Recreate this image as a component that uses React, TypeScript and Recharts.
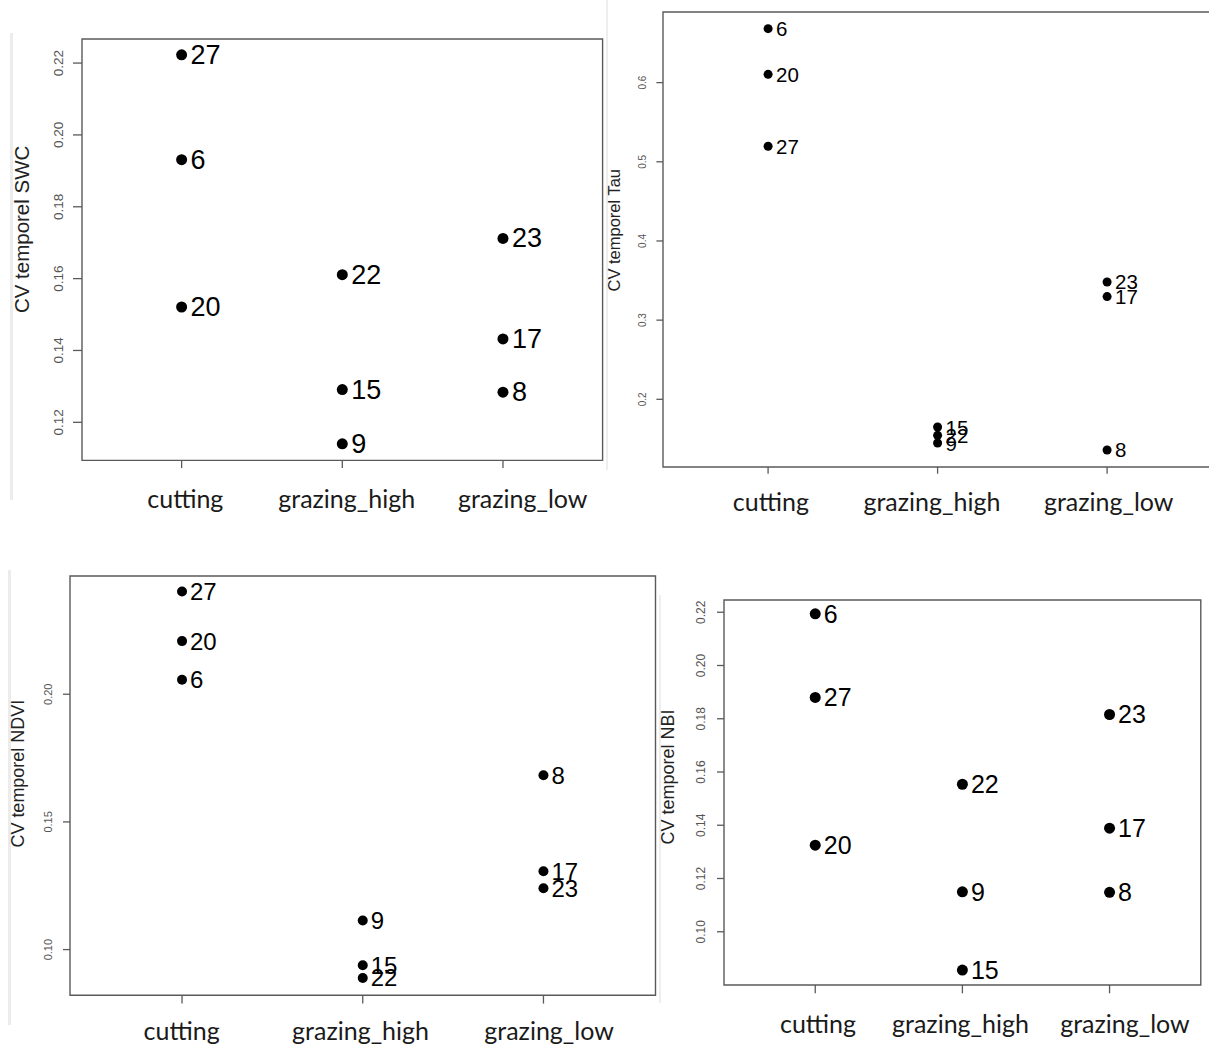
import React from "react";
import { ScatterChart, Scatter, XAxis, YAxis, ReferenceArea } from "recharts";

// treatments on the x axis, three plots per treatment in every panel
const categories = ["cutting", "grazing_high", "grazing_low"];
const pointGroups = [
  "cutting", "cutting", "cutting",
  "grazing_high", "grazing_high", "grazing_high",
  "grazing_low", "grazing_low", "grazing_low",
];

// CV temporel SWC
const swcIds = [27, 6, 20, 22, 15, 9, 23, 17, 8];
const swcValues = [0.2223, 0.1931, 0.1521, 0.1611, 0.1291, 0.114, 0.1712, 0.1432, 0.1284];
const swcTicks = [0.12, 0.14, 0.16, 0.18, 0.2, 0.22];
const swcDomain = [0.1094, 0.2267];

// CV temporel Tau
const tauIds = [6, 20, 27, 15, 22, 9, 23, 17, 8];
const tauValues = [0.6682, 0.6105, 0.5196, 0.165, 0.1545, 0.1448, 0.3482, 0.3297, 0.136];
const tauTicks = [0.2, 0.3, 0.4, 0.5, 0.6];
const tauDomain = [0.1145, 0.6892];

// CV temporel NDVI
const ndviIds = [27, 20, 6, 9, 15, 22, 8, 17, 23];
const ndviValues = [0.2402, 0.2208, 0.2057, 0.1114, 0.0939, 0.0889, 0.1683, 0.1307, 0.124];
const ndviTicks = [0.1, 0.15, 0.2];
const ndviDomain = [0.0821, 0.2463];

// CV temporel NBI
const nbiIds = [6, 27, 20, 22, 9, 15, 23, 17, 8];
const nbiValues = [0.2194, 0.188, 0.1325, 0.1554, 0.115, 0.0856, 0.1816, 0.1389, 0.1148];
const nbiTicks = [0.1, 0.12, 0.14, 0.16, 0.18, 0.2, 0.22];
const nbiDomain = [0.08, 0.2246];

const X_DOMAIN = [0.38, 3.62];
const SANS = "'Liberation Sans', Arial, sans-serif";
const LABEL_FONT = "Lato, 'Open Sans', sans-serif";
const BOX = "#5a5a5a";

// space around the plot box inside each svg
const PAD_LEFT = 80;
const PAD_TOP = 6;
const PAD_RIGHT = 6;
const PAD_BOTTOM = 70;

type Layout = {
  boxLeft: number;
  boxTop: number;
  boxRight: number;
  boxBottom: number;
  yTickSize: number;
  yTickFont: number;
  yTickDist: number;
  titleFont: number;
  titleDist: number;
  xTickSize: number;
  catBaseline: number;
  catShift: number[];
  dotR: number;
  labelFont: number;
  labelGap: number;
};

const swcLayout: Layout = {
  boxLeft: 81.7, boxTop: 39.3, boxRight: 602.3, boxBottom: 460.7,
  yTickSize: 9, yTickFont: 13.5, yTickDist: 23.7, titleFont: 20.5, titleDist: 60.3,
  xTickSize: 7.7, catBaseline: 508, catShift: [3.7, 4.4, 19.7],
  dotR: 5.5, labelFont: 27, labelGap: 9,
};
const tauLayout: Layout = {
  boxLeft: 663.3, boxTop: 11.7, boxRight: 1212.5, boxBottom: 466.7,
  yTickSize: 6.6, yTickFont: 10, yTickDist: 20.3, titleFont: 16.5, titleDist: 49.3,
  xTickSize: 6.7, catBaseline: 511, catShift: [2.8, -5.7, 1.6],
  dotR: 4.5, labelFont: 20.5, labelGap: 8,
};
const ndviLayout: Layout = {
  boxLeft: 70, boxTop: 575.7, boxRight: 655.5, boxBottom: 995,
  yTickSize: 7, yTickFont: 11, yTickDist: 22, titleFont: 18, titleDist: 52,
  xTickSize: 8.3, catBaseline: 1040, catShift: [-0.4, -2.2, 5.6],
  dotR: 5, labelFont: 24, labelGap: 8,
};
const nbiLayout: Layout = {
  boxLeft: 724, boxTop: 600, boxRight: 1200.8, boxBottom: 985,
  yTickSize: 7, yTickFont: 12, yTickDist: 23, titleFont: 18, titleDist: 55.5,
  xTickSize: 8.3, catBaseline: 1033, catShift: [2.8, -1.9, 15.4],
  dotR: 5.5, labelFont: 25, labelGap: 8.5,
};

interface PanelProps {
  title: string;
  ids: number[];
  values: number[];
  domain: number[];
  ticks: number[];
  decimals: number;
  layout: Layout;
}

function Panel({ title, ids, values, domain, ticks, decimals, layout }: PanelProps) {
  const plotW = layout.boxRight - layout.boxLeft;
  const plotH = layout.boxBottom - layout.boxTop;
  const width = plotW + PAD_LEFT + PAD_RIGHT;
  const height = plotH + PAD_TOP + PAD_BOTTOM;

  const data = ids.map((id, i) => ({
    x: categories.indexOf(pointGroups[i]) + 1,
    y: values[i],
    id,
  }));

  const catY = layout.catBaseline - layout.boxTop + PAD_TOP;
  const titleX = PAD_LEFT - layout.titleDist;
  const titleY = PAD_TOP + plotH / 2;

  return (
    <div
      style={{
        position: "absolute",
        left: layout.boxLeft - PAD_LEFT,
        top: layout.boxTop - PAD_TOP,
      }}
    >
      <ScatterChart
        width={width}
        height={height}
        margin={{ top: PAD_TOP, right: PAD_RIGHT, bottom: 0, left: 0 }}
      >
        <XAxis
          type="number"
          dataKey="x"
          domain={X_DOMAIN}
          ticks={[1, 2, 3]}
          interval={0}
          allowDataOverflow
          height={PAD_BOTTOM}
          axisLine={false}
          tickSize={layout.xTickSize}
          tickMargin={0}
          tickLine={{ stroke: BOX, strokeWidth: 1.3 }}
          tick={(p: any) => (
            <text
              x={p.x + layout.catShift[p.index]}
              y={catY}
              textAnchor="middle"
              fontSize={25}
              fontFamily={LABEL_FONT}
              fill="#1a1a1a"
            >
              {categories[p.payload.value - 1]}
            </text>
          )}
        />
        <YAxis
          type="number"
          dataKey="y"
          domain={domain}
          ticks={ticks}
          allowDataOverflow
          width={PAD_LEFT}
          axisLine={false}
          tickSize={layout.yTickSize}
          tickMargin={0}
          tickLine={{ stroke: BOX, strokeWidth: 1.3 }}
          tick={(p: any) => {
            const tx = PAD_LEFT - layout.yTickDist;
            return (
              <text
                x={tx}
                y={p.y}
                transform={`rotate(-90 ${tx} ${p.y})`}
                textAnchor="middle"
                dominantBaseline="central"
                fontSize={layout.yTickFont}
                fontFamily={SANS}
                fill="#555"
              >
                {Number(p.payload.value).toFixed(decimals)}
              </text>
            );
          }}
          label={
            <text
              x={titleX}
              y={titleY}
              transform={`rotate(-90 ${titleX} ${titleY})`}
              textAnchor="middle"
              dominantBaseline="central"
              fontSize={layout.titleFont}
              fontFamily={SANS}
              fill="#222"
            >
              {title}
            </text>
          }
        />
        <ReferenceArea
          x1={X_DOMAIN[0]}
          x2={X_DOMAIN[1]}
          y1={domain[0]}
          y2={domain[1]}
          fill="none"
          stroke={BOX}
          strokeWidth={1.4}
          ifOverflow="visible"
        />
        <Scatter
          data={data}
          isAnimationActive={false}
          shape={(p: any) => (
            <g>
              <circle cx={p.cx} cy={p.cy} r={layout.dotR} fill="#000" />
              <text
                x={p.cx + layout.labelGap}
                y={p.cy}
                dominantBaseline="central"
                fontSize={layout.labelFont}
                fontFamily={SANS}
                fill="#000"
              >
                {p.payload.id}
              </text>
            </g>
          )}
        />
      </ScatterChart>
    </div>
  );
}

// faint page-edge lines left over from the pasted images
const edge = (left: number, top: number, h: number, w: number, color: string) => (
  <div
    style={{
      position: "absolute",
      left,
      top,
      width: w,
      height: h,
      background: color,
    }}
  />
);

export default function App() {
  return (
    <div
      style={{
        position: "absolute",
        left: 0,
        top: 0,
        width: 1209,
        height: 1048,
        overflow: "hidden",
        background: "#fff",
      }}
    >
      {edge(10, 33, 467, 3, "#ececec")}
      {edge(606, 0, 470, 2, "#eeeeee")}
      {edge(8, 570, 455, 3, "#ececec")}
      {edge(659, 595, 408, 2, "#eeeeee")}
      <Panel
        title="CV temporel SWC"
        ids={swcIds}
        values={swcValues}
        domain={swcDomain}
        ticks={swcTicks}
        decimals={2}
        layout={swcLayout}
      />
      <Panel
        title="CV temporel Tau"
        ids={tauIds}
        values={tauValues}
        domain={tauDomain}
        ticks={tauTicks}
        decimals={1}
        layout={tauLayout}
      />
      <Panel
        title="CV temporel NDVI"
        ids={ndviIds}
        values={ndviValues}
        domain={ndviDomain}
        ticks={ndviTicks}
        decimals={2}
        layout={ndviLayout}
      />
      <Panel
        title="CV temporel NBI"
        ids={nbiIds}
        values={nbiValues}
        domain={nbiDomain}
        ticks={nbiTicks}
        decimals={2}
        layout={nbiLayout}
      />
    </div>
  );
}
